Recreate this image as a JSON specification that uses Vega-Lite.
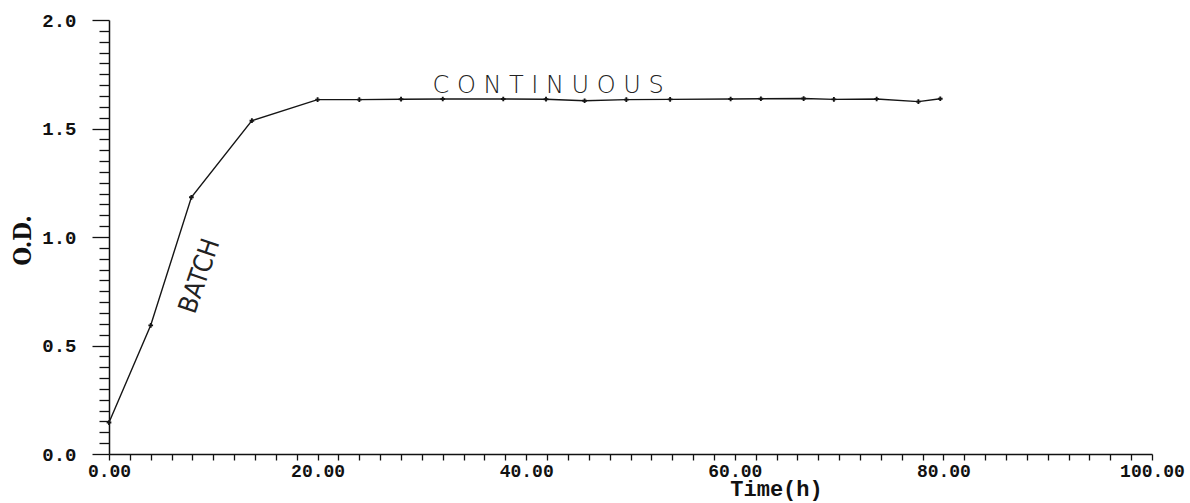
{
  "$schema": "https://vega.github.io/schema/vega-lite/v6.json",
  "width": 1043,
  "height": 434,
  "autosize": {"type": "none"},
  "padding": {"left": 109, "top": 20, "right": 38, "bottom": 49},
  "background": "white",
  "config": {"view": {"stroke": null}},
  "datasets": {
    "od": [
      {"time": 0, "od": 0.145},
      {"time": 4.0, "od": 0.593},
      {"time": 7.9, "od": 1.183},
      {"time": 13.7, "od": 1.536},
      {"time": 20.0, "od": 1.633},
      {"time": 24.0, "od": 1.633},
      {"time": 28.0, "od": 1.635},
      {"time": 32.0, "od": 1.636},
      {"time": 37.8, "od": 1.636},
      {"time": 41.9, "od": 1.635},
      {"time": 45.6, "od": 1.628},
      {"time": 49.6, "od": 1.633},
      {"time": 53.8, "od": 1.634},
      {"time": 59.6, "od": 1.636},
      {"time": 62.5, "od": 1.637},
      {"time": 66.6, "od": 1.638},
      {"time": 69.5, "od": 1.634},
      {"time": 73.6, "od": 1.636},
      {"time": 77.6, "od": 1.624},
      {"time": 79.7, "od": 1.637}
    ],
    "notes": [
      {"label": "C O N T I N U O U S", "time": 42.1, "od": 1.696, "kind": "cont"},
      {"label": "BATCH", "time": 8.7, "od": 0.82, "kind": "batch"}
    ]
  },
  "encoding": {
    "x": {
      "field": "time",
      "type": "quantitative",
      "scale": {"domain": [0, 100], "nice": false, "zero": false},
      "axis": {
        "values": [0,2,4,6,8,10,12,14,16,18,20,22,24,26,28,30,32,34,36,38,40,42,44,46,48,50,52,54,56,58,60,62,64,66,68,70,72,74,76,78,80,82,84,86,88,90,92,94,96,98,100],
        "labelExpr": "datum.value % 20 === 0 ? format(datum.value, '.2f') : ''",
        "labelOverlap": false,
        "labelFlush": false,
        "labelAlign": "center",
        "labelFont": "Liberation Mono",
        "labelFontWeight": "bold",
        "labelFontSize": 18,
        "labelColor": "#111",
        "labelPadding": 2,
        "tickSize": 6,
        "tickColor": "#111",
        "tickWidth": 1.3,
        "domainColor": "#111",
        "domainWidth": 1.5,
        "grid": false,
        "title": "Time(h)",
        "titleFont": "Liberation Mono",
        "titleFontWeight": "bold",
        "titleFontSize": 22,
        "titleColor": "#111",
        "titleX": 667,
        "titleY": 41,
        "titleAlign": "center",
        "titleBaseline": "alphabetic"
      }
    },
    "y": {
      "field": "od",
      "type": "quantitative",
      "scale": {"domain": [0, 2], "nice": false},
      "axis": {
        "values": [0,0.05,0.1,0.15,0.2,0.25,0.3,0.35,0.4,0.45,0.5,0.55,0.6,0.65,0.7,0.75,0.8,0.85,0.9,0.95,1,1.05,1.1,1.15,1.2,1.25,1.3,1.35,1.4,1.45,1.5,1.55,1.6,1.65,1.7,1.75,1.8,1.85,1.9,1.95,2],
        "labelExpr": "abs(datum.value * 2 - round(datum.value * 2)) < 0.001 ? format(datum.value, '.1f') : ''",
        "labelOverlap": false,
        "labelFlush": false,
        "labelBaseline": "middle",
        "labelFont": "Liberation Mono",
        "labelFontWeight": "bold",
        "labelFontSize": 19,
        "labelColor": "#111",
        "labelPadding": 16,
        "tickSize": {"condition": {"test": "abs(datum.value * 2 - round(datum.value * 2)) < 0.001", "value": 17}, "value": 10},
        "tickColor": "#111",
        "tickWidth": 1.3,
        "domainColor": "#111",
        "domainWidth": 1.5,
        "grid": false,
        "title": "O.D.",
        "titleFont": "DejaVu Serif Condensed",
        "titleFontWeight": "bold",
        "titleFontSize": 24,
        "titleColor": "#111",
        "titleAngle": -90,
        "titleX": -86,
        "titleY": 220,
        "titleAlign": "center",
        "titleBaseline": "middle"
      }
    }
  },
  "layer": [
    {
      "data": {"name": "od"},
      "mark": {
        "type": "line",
        "color": "#151515",
        "strokeWidth": 1.4,
        "point": {"shape": "cross", "size": 22, "filled": true, "color": "#151515"}
      }
    },
    {
      "data": {"name": "notes"},
      "transform": [{"filter": "datum.kind === 'cont'"}],
      "mark": {"type": "text", "font": "DejaVu Sans", "fontSize": 24, "fontWeight": 300, "color": "#222", "align": "center", "baseline": "middle"},
      "encoding": {"text": {"field": "label"}}
    },
    {
      "data": {"name": "notes"},
      "transform": [{"filter": "datum.kind === 'batch'"}],
      "mark": {"type": "text", "font": "DejaVu Sans Condensed", "fontWeight": 300, "fontSize": 26, "angle": -71, "color": "#222", "align": "center", "baseline": "middle"},
      "encoding": {"text": {"field": "label"}}
    }
  ]
}
